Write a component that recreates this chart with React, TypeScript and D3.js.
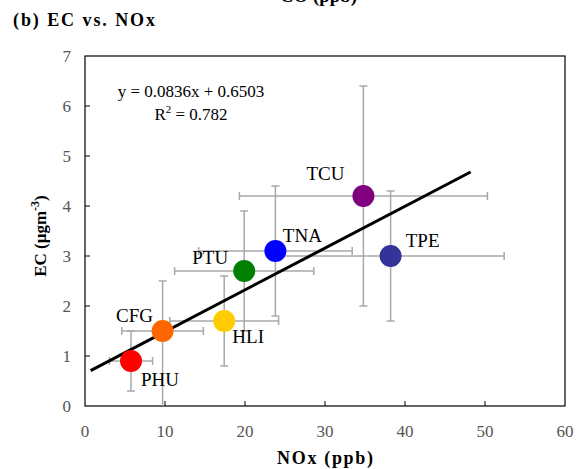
import React, { useRef, useEffect } from "react";
import * as d3 from "d3";

// site data
const sites = ["PHU", "CFG", "HLI", "PTU", "TNA", "TCU", "TPE"];
const noxMean = [5.75, 9.7, 17.4, 19.9, 23.8, 34.8, 38.2];
const ecMean = [0.9, 1.5, 1.7, 2.7, 3.1, 4.2, 3.0];
const noxErr = [2.7, 5.1, 6.8, 8.7, 9.6, 15.5, 14.2];
const ecErrUp = [0.6, 1.0, 0.9, 1.2, 1.3, 2.2, 1.3];
const ecErrDown = [0.6, 1.6, 0.9, 1.2, 1.3, 2.2, 1.3];
const siteColors = ["#ff0000", "#ff6600", "#ffcc00", "#008000", "#0000ff", "#800080", "#333399"];

const xTicks = [0, 10, 20, 30, 40, 50, 60];
const yTicks = [0, 1, 2, 3, 4, 5, 6, 7];

// regression y = 0.0836x + 0.6503, drawn from x=0.7 to x=48.2
const slope = 0.0836;
const intercept = 0.6503;
const fitRange = [0.7, 48.2];

// label offsets from each marker (px)
const labelOffsets = [
  [29, 25], [-28, -9], [24, 22], [-34, -7], [27, -9], [-38, -16], [32, -9],
];

const App = () => {
  const svgRef = useRef<SVGSVGElement>(null);

  useEffect(() => {
    const width = 579;
    const height = 469;
    const m = { left: 85, right: 14, top: 56, bottom: 63 };
    const serif = "'Liberation Serif', 'Times New Roman', serif";

    const svg = d3.select(svgRef.current);
    svg.selectAll("*").remove();
    svg.attr("width", width).attr("height", height);

    const x = d3.scaleLinear().domain([0, 60]).range([m.left, width - m.right]);
    const y = d3.scaleLinear().domain([0, 7]).range([height - m.bottom, m.top]);

    // clipped partial label from the panel above
    svg.append("text")
      .attr("x", 280).attr("y", 2)
      .attr("font-family", serif).attr("font-weight", "bold").attr("font-size", 18)
      .attr("textLength", 77).attr("lengthAdjust", "spacingAndGlyphs")
      .text("CO (ppb)");

    // panel title
    svg.append("text")
      .attr("x", 13).attr("y", 26)
      .attr("font-family", serif).attr("font-weight", "bold").attr("font-size", 18)
      .attr("textLength", 142).attr("lengthAdjust", "spacing")
      .text("(b) EC vs. NOx");

    // frame
    svg.append("rect")
      .attr("x", x(0)).attr("y", y(7))
      .attr("width", x(60) - x(0)).attr("height", y(0) - y(7))
      .attr("fill", "none").attr("stroke", "#000").attr("stroke-width", 1.2);

    // ticks (inward)
    svg.append("g").selectAll("line").data(xTicks.slice(1, -1)).enter().append("line")
      .attr("x1", (d) => x(d)).attr("x2", (d) => x(d))
      .attr("y1", y(0)).attr("y2", y(0) - 5)
      .attr("stroke", "#000");
    svg.append("g").selectAll("line").data(yTicks.slice(1, -1)).enter().append("line")
      .attr("x1", x(0)).attr("x2", x(0) + 5)
      .attr("y1", (d) => y(d)).attr("y2", (d) => y(d))
      .attr("stroke", "#000");

    // tick labels
    svg.append("g").selectAll("text").data(xTicks).enter().append("text")
      .attr("x", (d) => x(d)).attr("y", y(0) + 31)
      .attr("text-anchor", "middle")
      .attr("font-family", serif).attr("font-size", 17).attr("fill", "#555")
      .text((d) => d);
    svg.append("g").selectAll("text").data(yTicks).enter().append("text")
      .attr("x", x(0) - 14).attr("y", (d) => y(d) + 6)
      .attr("text-anchor", "end")
      .attr("font-family", serif).attr("font-size", 17).attr("fill", "#555")
      .text((d) => d);

    // axis titles
    svg.append("text")
      .attr("x", x(30)).attr("y", 464)
      .attr("text-anchor", "middle")
      .attr("font-family", serif).attr("font-weight", "bold").attr("font-size", 18)
      .attr("textLength", 96).attr("lengthAdjust", "spacing")
      .text("NOx (ppb)");

    const yTitle = svg.append("text")
      .attr("transform", "translate(46,236) rotate(-90)")
      .attr("text-anchor", "middle")
      .attr("font-family", serif).attr("font-weight", "bold").attr("font-size", 17);
    yTitle.append("tspan").text("EC (μgm");
    yTitle.append("tspan").attr("dy", -7).attr("font-size", 12).text("-3");
    yTitle.append("tspan").attr("dy", 7).text(")");

    const pts = sites.map((s, i) => ({
      name: s,
      x: noxMean[i],
      y: ecMean[i],
      ex: noxErr[i],
      eu: ecErrUp[i],
      ed: ecErrDown[i],
      color: siteColors[i],
      off: labelOffsets[i],
    }));

    // error bars
    const cap = 4;
    const eb = svg.append("g").attr("stroke", "#a8a8a8").attr("stroke-width", 1.5).attr("fill", "none");
    pts.forEach((p) => {
      const lo = Math.max(0, p.y - p.ed);
      const hi = p.y + p.eu;
      eb.append("line").attr("x1", x(p.x)).attr("x2", x(p.x)).attr("y1", y(lo)).attr("y2", y(hi));
      eb.append("line").attr("x1", x(p.x) - cap).attr("x2", x(p.x) + cap).attr("y1", y(hi)).attr("y2", y(hi));
      if (p.y - p.ed > 0) {
        eb.append("line").attr("x1", x(p.x) - cap).attr("x2", x(p.x) + cap).attr("y1", y(lo)).attr("y2", y(lo));
      }
      const l = p.x - p.ex;
      const r = p.x + p.ex;
      eb.append("line").attr("x1", x(l)).attr("x2", x(r)).attr("y1", y(p.y)).attr("y2", y(p.y));
      eb.append("line").attr("x1", x(l)).attr("x2", x(l)).attr("y1", y(p.y) - cap).attr("y2", y(p.y) + cap);
      eb.append("line").attr("x1", x(r)).attr("x2", x(r)).attr("y1", y(p.y) - cap).attr("y2", y(p.y) + cap);
    });

    // regression line
    const fit = d3.line<number>().x((d) => x(d)).y((d) => y(slope * d + intercept));
    svg.append("path")
      .attr("d", fit(fitRange))
      .attr("stroke", "#000").attr("stroke-width", 3).attr("fill", "none");

    // markers
    svg.append("g").selectAll("circle").data(pts).enter().append("circle")
      .attr("cx", (d) => x(d.x)).attr("cy", (d) => y(d.y)).attr("r", 11)
      .attr("fill", (d) => d.color);

    // site labels
    svg.append("g").selectAll("text").data(pts).enter().append("text")
      .attr("x", (d) => x(d.x) + d.off[0]).attr("y", (d) => y(d.y) + d.off[1])
      .attr("text-anchor", "middle")
      .attr("font-family", serif).attr("font-size", 19)
      .text((d) => d.name);

    // equation
    svg.append("text")
      .attr("x", 191).attr("y", 97)
      .attr("text-anchor", "middle")
      .attr("font-family", serif).attr("font-size", 17)
      .text("y = 0.0836x + 0.6503");
    const r2 = svg.append("text")
      .attr("x", 191).attr("y", 120)
      .attr("text-anchor", "middle")
      .attr("font-family", serif).attr("font-size", 17);
    r2.append("tspan").text("R");
    r2.append("tspan").attr("dy", -7).attr("font-size", 11).text("2");
    r2.append("tspan").attr("dy", 7).text(" = 0.782");
  }, []);

  return (
    <div style={{ position: "absolute", left: 0, top: 0 }}>
      <svg ref={svgRef}></svg>
    </div>
  );
};

export default App;
